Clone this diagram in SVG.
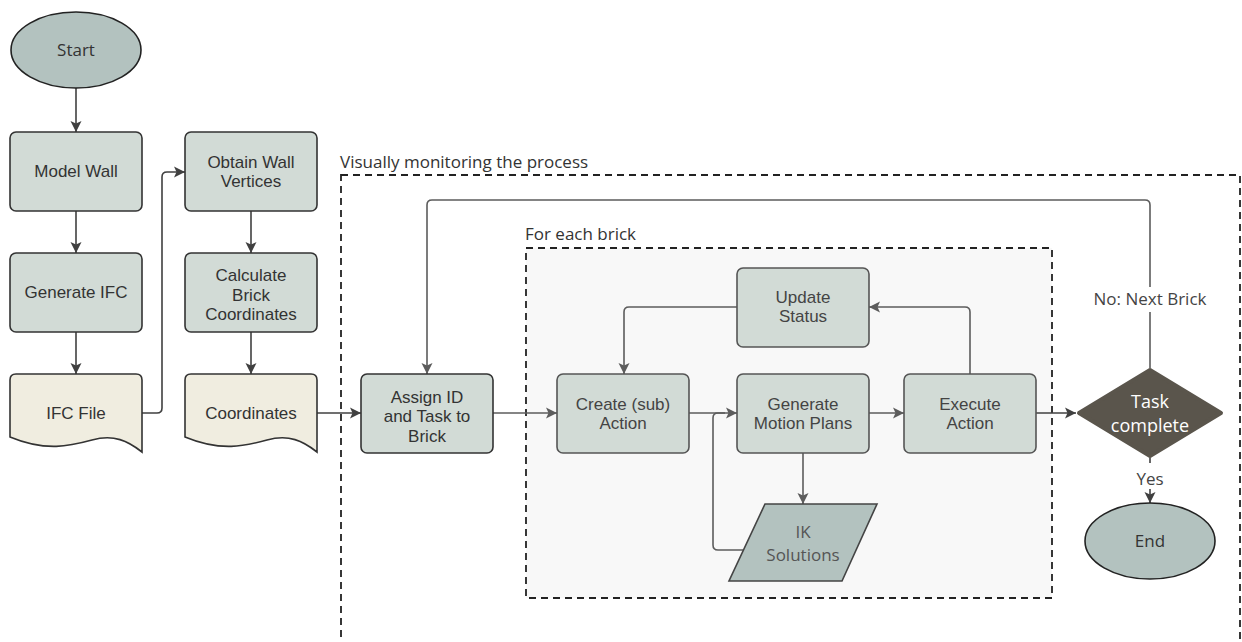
<svg xmlns="http://www.w3.org/2000/svg" width="1242" height="642" viewBox="0 0 1242 642">
<style>
.box{fill:#d2dbd6;stroke:#333;stroke-width:1.6}
.ibox{fill:#d2dbd6;stroke:#555;stroke-width:1.6}
.doc{fill:#f0ede0;stroke:#333;stroke-width:1.6}
.term{fill:#b3c2bf;stroke:#222;stroke-width:1.6}
.bt{font-family:"Liberation Sans",Arial,sans-serif;font-size:17px;fill:#333;text-anchor:middle}
.ibt{font-family:"Liberation Sans",Arial,sans-serif;font-size:17px;fill:#444;text-anchor:middle}
.lt{font-family:"Open Sans","Noto Sans",sans-serif;font-size:17px;fill:#333}
.c{fill:none;stroke:#404040;stroke-width:1.6}
.ci{fill:none;stroke:#5c5c5c;stroke-width:1.6}
.dash{fill:none;stroke:#222;stroke-width:1.8;stroke-dasharray:7 5}
</style>
<defs>
<marker id="a" markerUnits="userSpaceOnUse" markerWidth="12" markerHeight="12" viewBox="0 0 12 12" refX="11" refY="6" orient="auto">
<path d="M0,0.5 L11,6 L0,11.5 L2.5,6 Z" fill="#404040"/>
</marker>
<marker id="ai" markerUnits="userSpaceOnUse" markerWidth="12" markerHeight="12" viewBox="0 0 12 12" refX="11" refY="6" orient="auto">
<path d="M0,0.5 L11,6 L0,11.5 L2.5,6 Z" fill="#5c5c5c"/>
</marker>
</defs>
<rect width="1242" height="642" fill="#fff"/>

<g id="monitor-group">
<rect class="dash" x="341" y="175" width="899" height="520"/>
<text class="lt" x="340" y="168">Visually monitoring the process</text>
</g>
<g id="brick-group">
<rect class="dash" x="526" y="248" width="526" height="350" style="fill:#f8f8f8"/>
<text class="lt" x="525" y="240">For each brick</text>
</g>

<g id="connectors">
<path class="c" d="M76,88 V132" marker-end="url(#a)"/>
<path class="c" d="M76,211 V253" marker-end="url(#a)"/>
<path class="c" d="M76,332 V374" marker-end="url(#a)"/>
<path class="c" d="M142,413 H157 Q162,413 162,408 V177 Q162,172 167,172 H185" marker-end="url(#a)"/>
<path class="c" d="M251,211 V253" marker-end="url(#a)"/>
<path class="c" d="M251,332 V374" marker-end="url(#a)"/>
<path class="c" d="M317,413 H361" marker-end="url(#a)"/>
<path class="ci" d="M493,413 H557" marker-end="url(#ai)"/>
<path class="ci" d="M689,413 H737" marker-end="url(#ai)"/>
<path class="ci" d="M869,413 H904" marker-end="url(#ai)"/>
<path class="c" d="M1036,413 H1076" marker-end="url(#a)"/>
<path class="ci" d="M970,374 V312 Q970,307 965,307 H869" marker-end="url(#ai)"/>
<path class="ci" d="M737,307 H629 Q624,307 624,312 V374" marker-end="url(#ai)"/>
<path class="ci" d="M803,453 V504" marker-end="url(#ai)"/>
<path class="ci" d="M745,550 H718 Q713,550 713,545 V418 Q713,413 718,413 H725"/>
<path class="ci" d="M1150,368 V205 Q1150,200 1145,200 H432 Q427,200 427,205 V374" marker-end="url(#ai)"/>
<path class="c" d="M1150,458 V503" marker-end="url(#a)"/>
<rect x="1088" y="287" width="124" height="25" fill="#fff"/>
<text class="lt" x="1150" y="305" text-anchor="middle" style="fill:#444">No: Next Brick</text>
<rect x="1132" y="463" width="36" height="26" fill="#fff"/>
<text class="lt" x="1150" y="485" text-anchor="middle" style="fill:#444">Yes</text>
</g>

<g id="start">
<ellipse class="term" cx="76" cy="50" rx="65" ry="38"/>
<text class="lt" x="76" y="56" text-anchor="middle">Start</text>
</g>
<g id="model-wall">
<rect class="box" x="10" y="132" width="132" height="79" rx="6"/>
<text class="bt" x="76" y="177">Model Wall</text>
</g>
<g id="generate-ifc">
<rect class="box" x="10" y="253" width="132" height="79" rx="6"/>
<text class="bt" x="76" y="298">Generate IFC</text>
</g>
<g id="ifc-file">
<path class="doc" d="M10,380 Q10,374 16,374 H136 Q142,374 142,380 V452 C128,441 114,434 92,440 C70,446 46,452 10,437 Z"/>
<text class="bt" x="76" y="419">IFC File</text>
</g>
<g id="obtain-wall">
<rect class="box" x="185" y="132" width="132" height="79" rx="6"/>
<text class="bt" x="251" y="168">Obtain Wall</text>
<text class="bt" x="251" y="187">Vertices</text>
</g>
<g id="calc-coords">
<rect class="box" x="185" y="253" width="132" height="79" rx="6"/>
<text class="bt" x="251" y="281">Calculate</text>
<text class="bt" x="251" y="301">Brick</text>
<text class="bt" x="251" y="320">Coordinates</text>
</g>
<g id="coordinates">
<path class="doc" d="M185,380 Q185,374 191,374 H311 Q317,374 317,380 V452 C303,441 289,434 267,440 C245,446 221,452 185,437 Z"/>
<text class="bt" x="251" y="419">Coordinates</text>
</g>
<g id="assign">
<rect class="box" x="361" y="374" width="132" height="79" rx="6"/>
<text class="bt" x="427" y="403">Assign ID</text>
<text class="bt" x="427" y="422">and Task to</text>
<text class="bt" x="427" y="442">Brick</text>
</g>
<g id="update-status">
<rect class="ibox" x="737" y="268" width="132" height="79" rx="6"/>
<text class="ibt" x="803" y="303">Update</text>
<text class="ibt" x="803" y="322">Status</text>
</g>
<g id="create-action">
<rect class="ibox" x="557" y="374" width="132" height="79" rx="6"/>
<text class="ibt" x="623" y="410">Create (sub)</text>
<text class="ibt" x="623" y="429">Action</text>
</g>
<g id="generate-motion">
<rect class="ibox" x="737" y="374" width="132" height="79" rx="6"/>
<text class="ibt" x="803" y="410">Generate</text>
<text class="ibt" x="803" y="429">Motion Plans</text>
</g>
<g id="execute-action">
<rect class="ibox" x="904" y="374" width="132" height="79" rx="6"/>
<text class="ibt" x="970" y="410">Execute</text>
<text class="ibt" x="970" y="429">Action</text>
</g>
<g id="ik-solutions">
<path d="M765,504 H877 L842,581 H729 Z" fill="#b3c2bf" stroke="#444" stroke-width="1.6"/>
<text class="lt" x="803" y="538" text-anchor="middle" style="fill:#555">IK</text>
<text class="lt" x="803" y="561" text-anchor="middle" style="fill:#555">Solutions</text>
</g>
<g id="task-complete">
<path d="M1150,370 L1221,413 L1150,456 L1079,413 Z" fill="#5a554c" stroke="#5a554c" stroke-width="4" stroke-linejoin="round"/>
<text class="lt" x="1150" y="408" text-anchor="middle" style="fill:#fff;font-size:18px">Task</text>
<text class="lt" x="1150" y="432" text-anchor="middle" style="fill:#fff;font-size:18px">complete</text>
</g>
<g id="end">
<ellipse class="term" cx="1150" cy="541" rx="65" ry="38"/>
<text class="lt" x="1150" y="547" text-anchor="middle">End</text>
</g>
</svg>
